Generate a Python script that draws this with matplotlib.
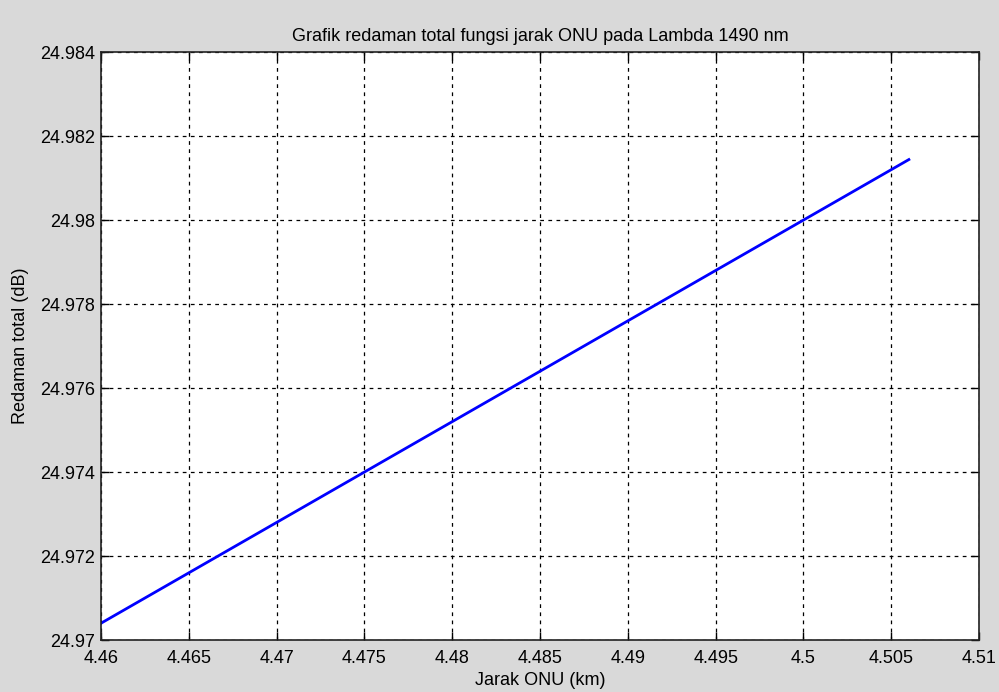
import matplotlib
matplotlib.use('Agg')
import matplotlib.pyplot as plt
import numpy as np

# Data (linear attenuation vs ONU distance)
jarak = [4.46, 4.475, 4.5, 4.506]
redaman = [24.9704, 24.974, 24.98, 24.98144]

xticks = [4.46, 4.465, 4.47, 4.475, 4.48, 4.485, 4.49, 4.495, 4.5, 4.505, 4.51]
xlabels = ['4.46', '4.465', '4.47', '4.475', '4.48', '4.485', '4.49', '4.495',
           '4.5', '4.505', '4.51']
yticks = [24.97, 24.972, 24.974, 24.976, 24.978, 24.98, 24.982, 24.984]
ylabels = ['24.97', '24.972', '24.974', '24.976', '24.978', '24.98',
           '24.982', '24.984']

plt.rcParams['font.family'] = ['Liberation Sans', 'DejaVu Sans']

fig = plt.figure(figsize=(9.99, 6.92), dpi=100, facecolor='#d9d9d9')
ax = fig.add_axes([0.1011, 0.0751, 0.879, 0.8497])
ax.set_facecolor('white')

ax.plot(jarak, redaman, color='#0000ff', linewidth=2)

ax.set_xlim(4.46, 4.51)
ax.set_ylim(24.97, 24.984)
ax.set_xticks(xticks)
ax.set_xticklabels(xlabels)
ax.set_yticks(yticks)
ax.set_yticklabels(ylabels)
ax.tick_params(direction='in', top=True, right=True, labelsize=13,
               length=6, width=1, pad=4)
ax.tick_params(axis='x', pad=7)
ax.grid(True, color='black', linestyle=(0, (3, 3.5)), linewidth=0.9)
for s in ax.spines.values():
    s.set_linewidth(1.2)
    s.set_color('#222222')

ax.set_title('Grafik redaman total fungsi jarak ONU pada Lambda 1490 nm',
             fontsize=13, pad=8)
ax.set_xlabel('Jarak ONU (km)', fontsize=13, labelpad=4)
ax.set_ylabel('Redaman total (dB)', fontsize=13, labelpad=8)

fig.savefig('out.png', dpi=100, facecolor=fig.get_facecolor())
